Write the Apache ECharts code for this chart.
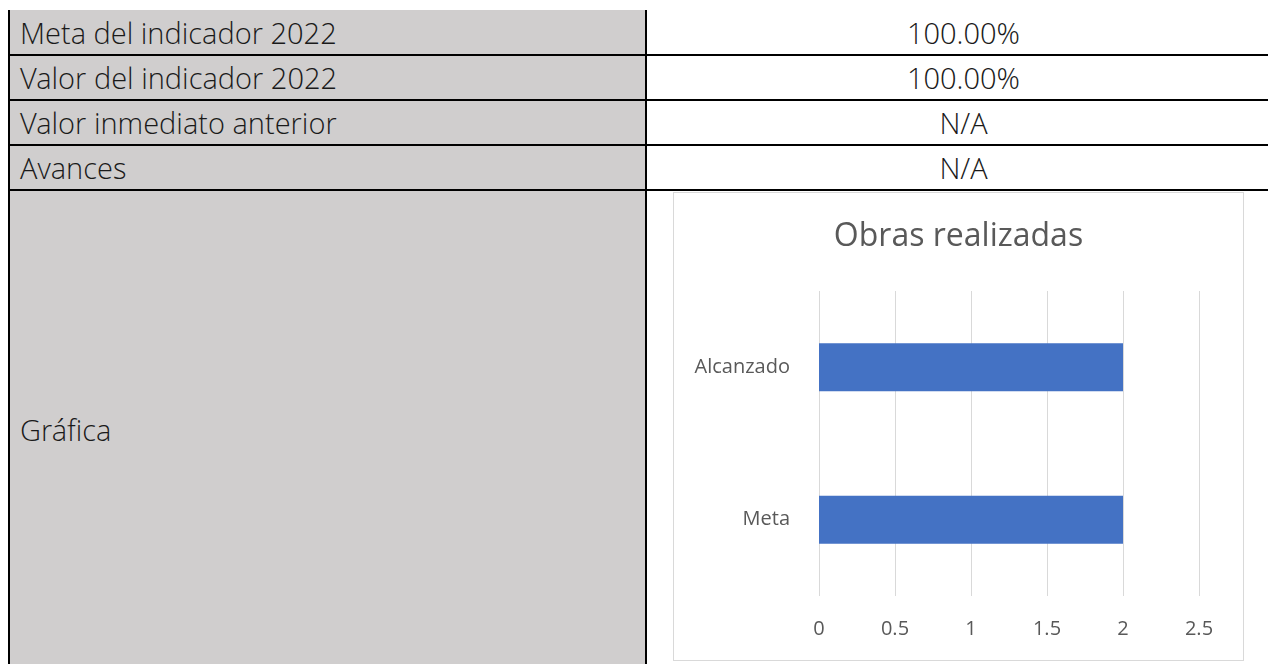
<!DOCTYPE html>
<html><head><meta charset="utf-8">
<script src="https://cdn.jsdelivr.net/npm/echarts@6/dist/echarts.min.js"></script>
<style>
html,body{margin:0;padding:0;background:#fff;width:1268px;height:664px;overflow:hidden;font-family:"Open Sans",sans-serif;}
.cell{position:absolute;box-sizing:border-box;font-family:"Open Sans Light","Open Sans",sans-serif;font-weight:300;font-size:29px;color:#1a1a1a;display:flex;align-items:center;white-space:nowrap;}
.lab{background:#D0CECE;left:10px;width:635px;padding-left:10px;}
.val{left:647px;width:621px;justify-content:center;padding-left:12px;}
.hl{position:absolute;left:8px;width:1260px;height:2px;background:#000;}
.vl{position:absolute;width:2px;background:#000;}
#chart{position:absolute;left:673px;top:192px;width:571px;height:469px;box-sizing:border-box;border:1px solid #D9D9D9;background:#fff;}
</style></head>
<body>
<div id="tbl"></div>
<div id="chart"></div>
<script>
const rowLabels = ['Meta del indicador 2022','Valor del indicador 2022','Valor inmediato anterior','Avances','Gráfica'];
const rowValues = ['100.00%','100.00%','N/A','N/A',''];
const categories = ['Meta','Alcanzado'];
const values = [2, 2];
const xTicks = [0, 0.5, 1, 1.5, 2, 2.5];

const tbl = document.getElementById('tbl');
const tops = [10, 56, 101, 146, 191];
const bottoms = [54, 99, 144, 189, 664];
let html = '';
rowLabels.forEach((l, i) => {
  const t = tops[i], h = bottoms[i] - tops[i];
  const extra = i === 4 ? 'padding-top:4px;' : '';
  html += `<div class="cell lab" style="top:${t}px;height:${h}px;${extra}">${l}</div>`;
  if (rowValues[i]) html += `<div class="cell val" style="top:${t}px;height:${h}px">${rowValues[i]}</div>`;
});
[54, 99, 144, 189].forEach(y => { html += `<div class="hl" style="top:${y}px"></div>`; });
html += `<div class="vl" style="left:8px;top:10px;height:654px"></div>`;
html += `<div class="vl" style="left:645px;top:10px;height:654px"></div>`;
tbl.innerHTML = html;

const chart = echarts.init(document.getElementById('chart'));
chart.setOption({
  animation: false,
  title: {
    text: 'Obras realizadas', left: 'center', top: 23,
    textStyle: { fontFamily: 'Open Sans', fontSize: 32, fontWeight: 'normal', color: '#595959' }
  },
  grid: { left: 145, right: 44, top: 98, bottom: 64 },
  xAxis: {
    type: 'value', min: xTicks[0], max: xTicks[xTicks.length - 1], interval: 0.5,
    axisLine: { show: false }, axisTick: { show: false },
    splitLine: { lineStyle: { color: '#D9D9D9', width: 1 } },
    axisLabel: { color: '#595959', fontSize: 20, fontFamily: 'Open Sans', margin: 23 }
  },
  yAxis: {
    type: 'category', data: categories,
    axisLine: { show: false }, axisTick: { show: false },
    axisLabel: { color: '#595959', fontSize: 20, fontFamily: 'Open Sans', margin: 29 }
  },
  series: [{
    type: 'bar', data: values, barWidth: 48,
    itemStyle: { color: '#4472C4' }
  }]
});
</script>
</body></html>
